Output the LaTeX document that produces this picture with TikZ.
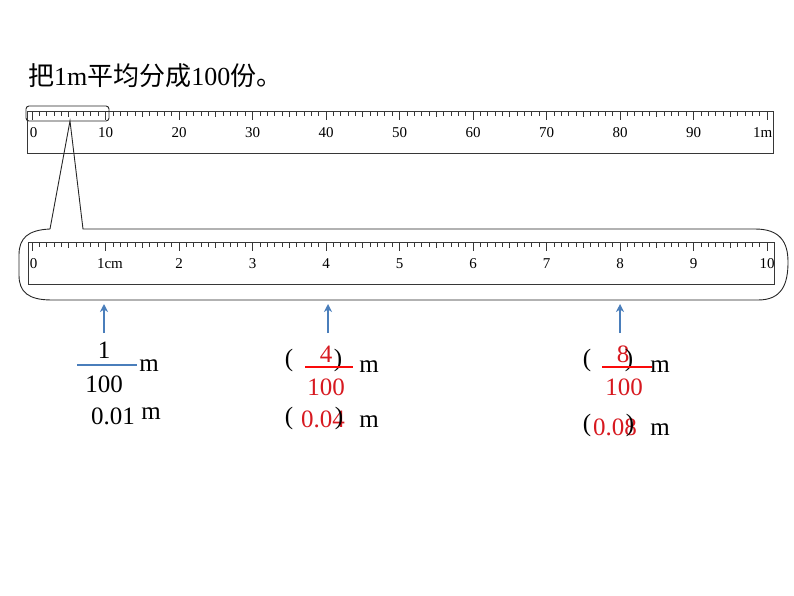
\documentclass[tikz,border=0pt]{standalone}
\usepackage{fontspec}
\setmainfont{Liberation Serif}
\newfontfamily\cjk{Noto Sans CJK SC}
\usepackage{tikz}
\usetikzlibrary{arrows.meta}
\definecolor{inkgray}{RGB}{55,55,55}
\definecolor{ptblue}{RGB}{74,126,187}
\definecolor{ansred}{RGB}{215,25,32}
\definecolor{barred}{RGB}{250,10,10}
\tikzset{
    rulerbox/.style={draw=inkgray, line width=0.9pt},
    rtick/.style   ={draw=inkgray, line width=0.7pt},
    rlbl/.style    ={font=\fontsize{15}{16}\selectfont, inner sep=0pt, anchor=base},
    callout/.style ={draw=black!85, line width=0.9pt},
    ptr/.style     ={-{Stealth[length=8pt, width=8pt, inset=2.5pt]}, draw=ptblue, line width=1.6pt},
    txt/.style     ={font=\fontsize{25}{30}\selectfont, inner sep=0pt, anchor=base},
    ans/.style     ={txt, text=ansred},
    fracbar/.style ={line width=1.6pt}
}
\newcommand{\rulerticks}{%
  \foreach \i in {0,...,100}{%
    \pgfmathsetmacro{\tx}{32+7.35*\i}%
    \pgfmathsetmacro{\tl}{mod(\i,10)==0 ? 8.5 : (mod(\i,5)==0 ? 6 : 5)}%
    \draw[rtick] (\tx,0) -- ++(0,\tl);
  }}

\begin{document}
\begin{tikzpicture}[x=1pt, y=-1pt]
  \useasboundingbox (0,0) rectangle (794,596);

  \node[txt, anchor=base west, font=\fontsize{26}{30}\selectfont] (title) at (28,86)
       {{\cjk 把}1m{\cjk 平均分成}100{\cjk 份。}};

  % the whole metre
  \begin{scope}[shift={(0,111.5)}]
    \draw[rulerbox] (27.5,0) rectangle (773.5,42);
    \rulerticks
    \node[rlbl] (u0) at (33.5,26) {0};
    \foreach \k in {1,...,9}
      \node[rlbl] (u\k) at ({32+73.5*\k},26) {\k0};
    \node[rlbl, anchor=base east] (u10) at (772.5,26) {1m};
  \end{scope}

  % first ten centimetres, magnified
  \draw[callout, rounded corners=3pt] (26,106) rectangle (109,121);
  \coordinate (apex) at (70,121);
  \coordinate (wl) at (50,229);
  \coordinate (wr) at (83,229);
  \draw[callout] (wl) -- (apex) -- (wr) -- (755,229)
       .. controls (780,229) and (788,242) .. (788,262)
       .. controls (788,284) and (782,300) .. (758,300) -- (52,300)
       .. controls (28,300) and (19,292) .. (19,275) -- (19,255)
       .. controls (19,238) and (28,230) .. (wl);

  \begin{scope}[shift={(0,242)}]
    \draw[rulerbox] (28,0) rectangle (774,42);
    \rulerticks
    \node[rlbl] (v0) at (33.5,26) {0};
    \node[rlbl] (v1) at (110,26) {1cm};
    \foreach \k in {2,...,9}
      \node[rlbl] (v\k) at ({32+73.5*\k},26) {\k};
    \node[rlbl] (v10) at (767,26) {10};
  \end{scope}

  % pointers
  \coordinate (pa) at (104,333);  \coordinate (qa) at (104,304);
  \coordinate (pb) at (328,333);  \coordinate (qb) at (328,304);
  \coordinate (pc) at (620,333);  \coordinate (qc) at (620,304);
  \draw[ptr] (pa) -- (qa);
  \draw[ptr] (pb) -- (qb);
  \draw[ptr] (pc) -- (qc);

  % 1 cm
  \node[txt] (na1) at (104,358) {1};
  \draw[fracbar, draw=ptblue] (77,365) -- (137,365);
  \node[txt] (na100) at (104,392) {100};
  \node[txt] (nam) at (149,371) {m};
  \node[txt] (nad) at (113,424) {0.01};
  \node[txt] (nadm) at (151,419) {m};

  % 4 cm
  \node[txt] (nbl) at (289,366) {(};
  \node[ans] (nb4) at (326,362) {4};
  \node[txt] (nbr) at (338,366) {)};
  \draw[fracbar, draw=barred] (305,367) -- (353,367);
  \node[txt] (nbm) at (369,372) {m};
  \node[ans] (nb100) at (326,395) {100};
  \node[txt] (nbdl) at (289,424) {(};
  \node[ans] (nbd) at (323,427) {0.04};
  \node[txt] (nbdr) at (339,424) {)};
  \node[txt] (nbdm) at (369,427) {m};

  % 8 cm
  \node[txt] (ncl) at (587,366) {(};
  \node[ans] (nc8) at (623,362) {8};
  \node[txt] (ncr) at (629,366) {)};
  \draw[fracbar, draw=barred] (602,367) -- (652,367);
  \node[txt] (ncm) at (660,372) {m};
  \node[ans] (nc100) at (624,395) {100};
  \node[txt] (ncdl) at (587,431) {(};
  \node[ans] (ncd) at (615,435) {0.08};
  \node[txt] (ncdr) at (630,431) {)};
  \node[txt] (ncdm) at (660,435) {m};
\end{tikzpicture}
\end{document}
